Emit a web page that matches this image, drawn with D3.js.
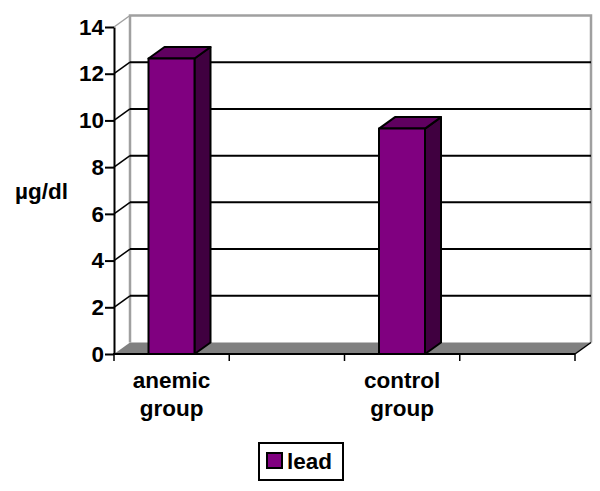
<!DOCTYPE html>
<html>
<head>
<meta charset="utf-8">
<script src="https://cdn.jsdelivr.net/npm/d3@7"></script>
<style>
	html, body { margin: 0; padding: 0; background: #fff; }
	svg { display: block; }
	text { font-family: "Liberation Sans", Arial, sans-serif; font-weight: bold; fill: #000; }
</style>
</head>
<body>
<svg id="chart" width="600" height="491"></svg>
<script>
// two empty slots on the x axis, the original sheet had 4 categories
var categories = ["anemic group", "", "control group", ""],
	leadValues = [12.65, null, 9.65, null],
	yTicks = [0, 2, 4, 6, 8, 10, 12, 14],
	seriesName = "lead",
	yLabel = "µg/dl";

var purple = "#800080",
	purpleTop = "#600060",
	purpleSide = "#400040",
	floorColor = "#808080",
	wallColor = "#a0a0a0";

var left = 114,
	right = 575,
	bottom = 354,
	top14 = 27,
	depthX = 16,
	depthY = -11.5,
	barInnerLeft = 34.5,
	barWidth = 46,
	fontSize = 22.5;

var svg = d3.select("#chart");

var x = d3.scaleBand().domain(d3.range(categories.length)).range([left, right]);
var y = d3.scaleLinear().domain([0, 14]).range([bottom, top14]);

function poly(points){
	return points.map(function(p){ return p.join(","); }).join(" ");
}

// back wall and floor
svg.append("polygon")
	.attr("points", poly([[left, bottom], [right, bottom], [right + depthX, bottom + depthY], [left + depthX, bottom + depthY]]))
	.attr("fill", floorColor);

svg.append("polyline")
	.attr("points", poly([[left + depthX, bottom + depthY], [left + depthX, y(14) + depthY], [right + depthX, y(14) + depthY], [right + depthX, bottom + depthY]]))
	.attr("fill", "none")
	.attr("stroke", wallColor)
	.attr("stroke-width", 2.5);

// gridlines on the back wall
svg.selectAll(".grid").data(yTicks.filter(function(d){ return d > 0 && d < 14; })).enter()
	.append("line")
	.attr("class", "grid")
	.attr("x1", left + depthX)
	.attr("x2", right + depthX)
	.attr("y1", function(d){ return y(d) + depthY; })
	.attr("y2", function(d){ return y(d) + depthY; })
	.attr("stroke", "#000")
	.attr("stroke-width", 2);

// slanted lines on the left side wall
svg.selectAll(".slant").data(yTicks.filter(function(d){ return d > 0; })).enter()
	.append("line")
	.attr("class", "slant")
	.attr("x1", left)
	.attr("x2", left + depthX)
	.attr("y1", function(d){ return y(d); })
	.attr("y2", function(d){ return y(d) + depthY; })
	.attr("stroke", function(d){ return d == 14 ? wallColor : "#000"; })
	.attr("stroke-width", 1.5);

svg.append("line")
	.attr("x1", right)
	.attr("x2", right + depthX)
	.attr("y1", bottom)
	.attr("y2", bottom + depthY)
	.attr("stroke", "#000")
	.attr("stroke-width", 1.5);

// bars
var bars = svg.selectAll(".bar")
	.data(leadValues.map(function(v, i){ return {value: v, index: i}; }).filter(function(d){ return d.value !== null; }))
	.enter()
	.append("g")
	.attr("class", "bar");

bars.each(function(d){
	var g = d3.select(this),
		x0 = x(d.index) + barInnerLeft,
		x1 = x0 + barWidth,
		yt = y(d.value);

	g.append("polygon")
		.attr("points", poly([[x1, yt], [x1 + depthX, yt + depthY], [x1 + depthX, bottom + depthY], [x1, bottom]]))
		.attr("fill", purpleSide);
	g.append("polygon")
		.attr("points", poly([[x0, yt], [x0 + depthX, yt + depthY], [x1 + depthX, yt + depthY], [x1, yt]]))
		.attr("fill", purpleTop);
	g.append("rect")
		.attr("x", x0)
		.attr("y", yt)
		.attr("width", barWidth)
		.attr("height", bottom - yt)
		.attr("fill", purple);
	g.selectAll("polygon, rect")
		.attr("stroke", "#000")
		.attr("stroke-width", 2)
		.attr("stroke-linejoin", "round");
});

// y axis
var yAxis = d3.axisLeft(y).tickValues(yTicks).tickSize(9).tickPadding(1).tickSizeOuter(0);
var yG = svg.append("g")
	.attr("transform", "translate(" + left + ",0)")
	.call(yAxis);
yG.selectAll("path, line").attr("stroke", "#000").attr("stroke-width", 2);
yG.selectAll("text").attr("font-size", fontSize).attr("fill", "#000").attr("font-family", null);

// x axis, ticks sit on the band edges
var xEdges = d3.scaleLinear().domain([0, categories.length]).range([left, right]);
svg.append("line")
	.attr("x1", left - 1)
	.attr("x2", right)
	.attr("y1", bottom)
	.attr("y2", bottom)
	.attr("stroke", "#000")
	.attr("stroke-width", 2);

svg.selectAll(".xtick").data(d3.range(categories.length + 1)).enter()
	.append("line")
	.attr("class", "xtick")
	.attr("x1", function(d){ return xEdges(d); })
	.attr("x2", function(d){ return xEdges(d); })
	.attr("y1", bottom)
	.attr("y2", bottom + 7)
	.attr("stroke", "#000")
	.attr("stroke-width", 1.5);

svg.selectAll(".xlabel").data(categories.map(function(c, i){ return {name: c, index: i}; }).filter(function(d){ return d.name; })).enter()
	.append("text")
	.attr("class", "xlabel")
	.attr("text-anchor", "middle")
	.attr("font-size", fontSize)
	.each(function(d){
		var t = d3.select(this),
			cx = x(d.index) + x.bandwidth() / 2;
		d.name.split(" ").forEach(function(word, i){
			t.append("tspan")
				.attr("x", cx)
				.attr("y", 388 + i * 28)
				.text(word);
		});
	});

svg.append("text")
	.attr("x", 15)
	.attr("y", 199)
	.attr("font-size", fontSize)
	.text(yLabel);

// legend
var legend = svg.append("g").attr("transform", "translate(259,443)");
legend.append("rect")
	.attr("width", 84)
	.attr("height", 37)
	.attr("fill", "#fff")
	.attr("stroke", "#000")
	.attr("stroke-width", 2);
legend.append("rect")
	.attr("x", 8)
	.attr("y", 10)
	.attr("width", 15)
	.attr("height", 15)
	.attr("fill", purple)
	.attr("stroke", "#000")
	.attr("stroke-width", 2);
legend.append("text")
	.attr("x", 28)
	.attr("y", 26)
	.attr("font-size", fontSize)
	.text(seriesName);
</script>
</body>
</html>
